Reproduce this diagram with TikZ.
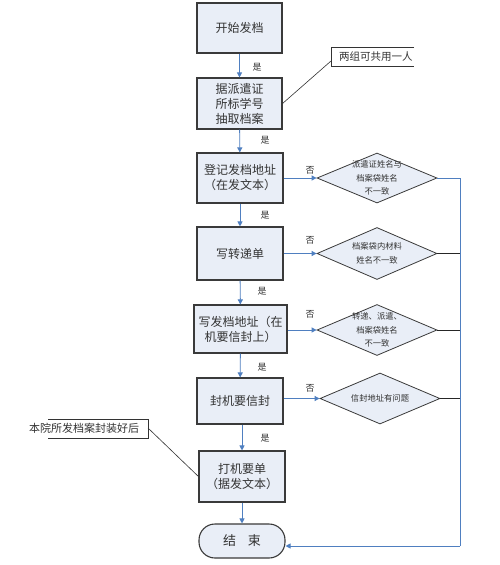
\documentclass[tikz,border=0pt]{standalone}
\usepackage{fontspec}
\newfontfamily\cjk{Noto Sans CJK SC}
\usetikzlibrary{shapes.geometric,arrows.meta}
\definecolor{boxfill}{HTML}{E9EEF7}
\definecolor{boxline}{HTML}{3A3A3A}
\definecolor{arrowblue}{HTML}{4F7FC0}
\tikzset{
  x=1pt,y=-1pt,
  procbox/.style={draw=boxline,line width=1.1pt,fill=boxfill,rectangle,inner sep=2pt,
    align=center,font=\cjk\fontsize{12}{15}\selectfont,text=black!80},
  decbox/.style={draw=boxline,line width=0.8pt,fill=boxfill,diamond,inner sep=0pt},
  dectext/.style={align=center,font=\cjk\fontsize{8.3}{13.5}\selectfont,text=black!80},
  endbox/.style={draw=boxline,line width=1.1pt,fill=boxfill,rectangle,rounded corners=16pt,
    font=\cjk\fontsize{13}{15}\selectfont,text=black!80},
  flow/.style={draw=arrowblue,line width=0.9pt,-{Triangle[width=5pt,length=5pt]}},
  backline/.style={draw=arrowblue,line width=0.9pt},
  darkline/.style={draw=black!85,line width=0.8pt},
  lbl/.style={font=\cjk\fontsize{9}{10}\selectfont,text=black!80,inner sep=0pt},
  note/.style={font=\cjk\fontsize{10.5}{12}\selectfont,text=black!80,inner sep=1pt,anchor=west},
  noteline/.style={draw=black!80,line width=0.6pt}
}
\begin{document}
\begin{tikzpicture}
\useasboundingbox (0,0) rectangle (500,565);
\fill[white] (0,0) rectangle (500,565);

% process boxes
\node[procbox,minimum width=85pt,minimum height=50pt] (b1) at (239.5,28) {开始发档};
\node[procbox,minimum width=85pt,minimum height=51pt] (b2) at (239.5,103.5) {据派遣证\\所标学号\\抽取档案};
\node[procbox,minimum width=86pt,minimum height=50pt] (b3) at (240,178) {登记发档地址\\（在发文本）};
\node[procbox,minimum width=86pt,minimum height=53pt] (b4) at (240,253.5) {写转递单};
\node[procbox,minimum width=93pt,minimum height=48pt] (b5) at (240.5,329) {写发档地址（在\\机要信封上）};
\node[procbox,minimum width=86pt,minimum height=46pt] (b6) at (240,401) {封机要信封};
\node[procbox,minimum width=86pt,minimum height=51pt] (b7) at (242,476.5) {打机要单\\（据发文本）};
\node[endbox,minimum width=86pt,minimum height=34pt] (e) at (242,541) {结\hspace{0.9em}束};

% decisions
\node[decbox,minimum width=120pt,minimum height=50pt] (d1) at (377,178) {};
\node[dectext] (t1) at (d1.center) {派遣证姓名与\\档案袋姓名\\不一致};
\node[decbox,minimum width=120pt,minimum height=52pt] (d2) at (377,253.5) {};
\node[dectext] (t2) at (d2.center) {档案袋内材料\\姓名不一致};
\node[decbox,minimum width=120pt,minimum height=51pt] (d3) at (377,330) {};
\node[dectext] (t3) at (d3.center) {转递、派遣、\\档案袋姓名\\不一致};
\node[decbox,minimum width=120pt,minimum height=51pt] (d4) at (380,398.5) {};
\node[dectext] (t4) at (d4.center) {信封地址有问题};

% vertical flow
\draw[flow] (b1) -- (b2);
\draw[flow] (b2) -- (b3);
\draw[flow] (b3) -- (b4);
\draw[flow] (b4) -- (b5);
\draw[flow] (b5) -- (b6);
\draw[flow] (b6.south -| b7.north) -- (b7.north);
\draw[flow] (b7) -- (e);

\node[lbl] (y1) at (257,67) {是};
\node[lbl] (y2) at (265,140) {是};
\node[lbl] (y3) at (265,215) {是};
\node[lbl] (y4) at (262,291) {是};
\node[lbl] (y5) at (262,367) {是};
\node[lbl] (y6) at (265,438) {是};

% horizontal no-branches
\draw[flow] (b3.east) -- (d1.west);
\draw[flow] (b4.east) -- (d2.west);
\draw[flow] (b5.east |- d3.west) -- (d3.west);
\draw[flow] (b6.east |- d4.west) -- (d4.west);

\node[lbl] (n1) at (310,170) {否};
\node[lbl] (n2) at (310,240) {否};
\node[lbl] (n3) at (310,314) {否};
\node[lbl] (n4) at (310,388) {否};

% return line
\coordinate (r1) at (460,178);
\coordinate (r5) at (460,546);
\draw[backline] (d1.east) -- (r1) -- (r5);
\draw[darkline] (d2.east) -- (d2.east -| r1);
\draw[darkline] (d3.east) -- (d3.east -| r1);
\draw[darkline] (d4.east) -- (d4.east -| r1);
\draw[flow] (r5) -- (e.east |- r5);

% annotations
\node[note] (a1) at (338,56.5) {两组可共用一人};
\draw[noteline] (414,47) -- (331,47) -- (331,66) -- (414,66);
\coordinate (a1p) at (331,61);
\draw[noteline] (a1p) -- (b2.east);

\node[note,font=\cjk\fontsize{11}{12}\selectfont] (a2) at (28,428.5) {本院所发档案封装好后};
\draw[noteline] (48,419) -- (148,419) -- (148,438) -- (48,438);
\coordinate (a2p) at (148,428);
\draw[noteline] (a2p) -- (b7.west);
\end{tikzpicture}
\end{document}
